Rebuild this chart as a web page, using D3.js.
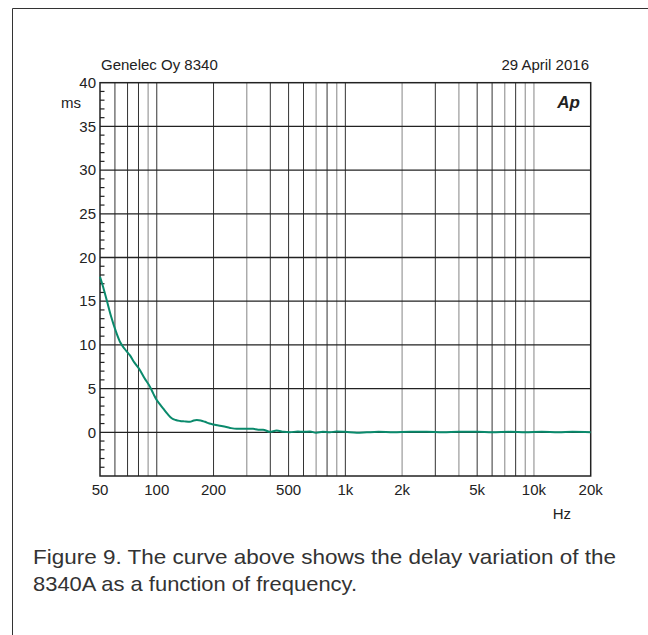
<!DOCTYPE html>
<html>
<head>
<meta charset="utf-8">
<script src="https://cdn.jsdelivr.net/npm/d3@7"></script>
<style>
  html, body { margin: 0; padding: 0; background: #fff; }
  svg { display: block; font-family: "Liberation Sans", Arial, Helvetica, sans-serif; }
</style>
</head>
<body>
<svg id="chart" width="648" height="635"></svg>
<script>
// ---- data ----
const freqHz = [50, 52, 54.3, 57, 61.3, 64, 67.8, 72.1, 76, 81.5, 86, 92.1, 96, 99.9, 104, 108.4, 114, 120, 126, 132.8, 140, 150, 157, 163, 171, 180, 190, 198.6, 210, 224, 245, 265, 290, 324, 345, 366, 398, 432, 470, 508, 560, 600, 649, 700, 760, 829, 900, 1000, 1150, 1300, 1500, 1800, 2200, 2700, 3300, 4000, 5000, 6000, 7500, 9000, 11000, 13500, 16000, 20000];
const delayMs = [17.8, 16.6, 15.1, 13.4, 11.3, 10.3, 9.5, 8.8, 8.0, 7.1, 6.2, 5.2, 4.4, 3.7, 3.2, 2.7, 2.1, 1.6, 1.4, 1.3, 1.25, 1.2, 1.35, 1.4, 1.35, 1.2, 1.0, 0.9, 0.8, 0.7, 0.5, 0.4, 0.4, 0.4, 0.3, 0.3, 0.05, 0.2, 0.05, 0.0, 0.1, 0.05, 0.1, -0.05, 0.05, 0.0, 0.1, 0.05, -0.05, 0.0, 0.05, 0.0, 0.05, 0.05, 0.0, 0.05, 0.05, 0.0, 0.05, 0.0, 0.05, 0.0, 0.05, 0.0];
const xTickValues = [50, 100, 200, 500, 1000, 2000, 5000, 10000, 20000];
const xTickLabels = ["50", "100", "200", "500", "1k", "2k", "5k", "10k", "20k"];
const xGridBlack = [60, 70, 80, 100, 200, 400, 500, 600, 800, 1000, 3000, 5000, 6000, 8000];
const xGridGray = [90, 300, 700, 900, 2000, 4000, 7000, 9000, 10000];
const yTickValues = [0, 5, 10, 15, 20, 25, 30, 35, 40];
const yMinor = d3.range(-4, 40).filter(v => v % 5 !== 0);
const titleLeft = "Genelec Oy 8340";
const titleRight = "29 April 2016";
const captionLines = ["Figure 9. The curve above shows the delay variation of the", "8340A as a function of frequency."];

// ---- layout ----
const svg = d3.select("#chart");
const L = 100, R = 590.7, T = 82.7, B = 476;
const x = d3.scaleLog().domain([50, 20000]).range([L, R]);
const y = d3.scaleLinear().domain([-5, 40]).range([B, T]);

// outer frame
svg.append("path").attr("d", "M12.5,635 L12.5,8.5 L648,8.5")
  .attr("fill", "none").attr("stroke", "#333").attr("stroke-width", 1);

// vertical grid
svg.append("g").selectAll("line").data(xGridGray).join("line")
  .attr("x1", d => x(d)).attr("x2", d => x(d)).attr("y1", T).attr("y2", B)
  .attr("stroke", "#a8a8a8").attr("stroke-width", 1.4);
svg.append("g").selectAll("line").data(xGridBlack).join("line")
  .attr("x1", d => x(d)).attr("x2", d => x(d)).attr("y1", T).attr("y2", B)
  .attr("stroke", "#333").attr("stroke-width", 1);

// horizontal grid
svg.append("g").selectAll("line").data(yTickValues.filter(v => v < 40)).join("line")
  .attr("x1", L).attr("x2", R).attr("y1", d => y(d)).attr("y2", d => y(d))
  .attr("stroke", "#222").attr("stroke-width", 1.3);

// minor y ticks
svg.append("g").selectAll("line").data(yMinor).join("line")
  .attr("x1", L).attr("x2", L + 4.5).attr("y1", d => y(d)).attr("y2", d => y(d))
  .attr("stroke", "#222").attr("stroke-width", 1.2);

// plot frame
svg.append("rect").attr("x", L).attr("y", T).attr("width", R - L).attr("height", B - T)
  .attr("fill", "none").attr("stroke", "#222").attr("stroke-width", 1.5);

// curve
const pathGen = d3.line().x((d, i) => x(freqHz[i])).y(d => y(d)).curve(d3.curveMonotoneX);
svg.append("path").datum(delayMs).attr("d", pathGen)
  .attr("fill", "none").attr("stroke", "#0a8a6c").attr("stroke-width", 2)
  .attr("stroke-linejoin", "round");

// axes labels
const fs = 15;
svg.append("g").selectAll("text").data(yTickValues).join("text")
  .attr("x", 96).attr("y", d => y(d)).attr("dy", "0.35em")
  .attr("text-anchor", "end").attr("font-size", fs).attr("fill", "#222")
  .text(d => d);
svg.append("text").attr("x", 81).attr("y", 108).attr("text-anchor", "end")
  .attr("font-size", fs).attr("fill", "#222").text("ms");
svg.append("g").selectAll("text").data(xTickValues).join("text")
  .attr("x", d => x(d)).attr("y", 495).attr("text-anchor", "middle")
  .attr("font-size", fs).attr("fill", "#222")
  .text((d, i) => xTickLabels[i]);
svg.append("text").attr("x", 571).attr("y", 519).attr("text-anchor", "end")
  .attr("font-size", fs).attr("fill", "#222").text("Hz");

// titles
svg.append("text").attr("x", 101).attr("y", 70).attr("font-size", fs).attr("fill", "#222").text(titleLeft);
svg.append("text").attr("x", 589).attr("y", 70).attr("text-anchor", "end").attr("font-size", fs).attr("fill", "#222").text(titleRight);
svg.append("text").attr("x", 580).attr("y", 108).attr("text-anchor", "end")
  .attr("font-size", 17).attr("font-weight", "bold").attr("font-style", "italic").attr("fill", "#222").text("Ap");

// caption
const capLen = [583, 324];
svg.append("g").selectAll("text").data(captionLines).join("text")
  .attr("x", 33).attr("y", (d, i) => 564 + i * 26.7)
  .attr("font-size", 21).attr("fill", "#333")
  .attr("textLength", (d, i) => capLen[i]).attr("lengthAdjust", "spacingAndGlyphs")
  .text(d => d);
</script>
</body>
</html>
